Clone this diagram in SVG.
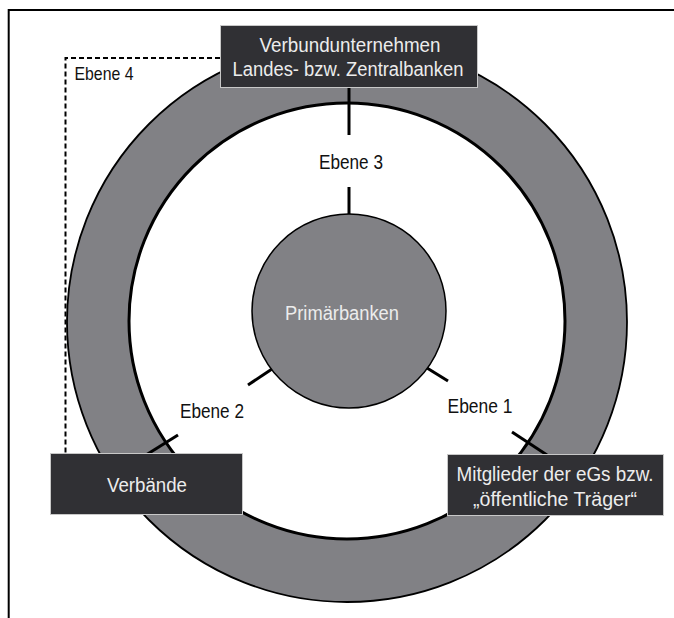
<svg xmlns="http://www.w3.org/2000/svg" width="674" height="618" viewBox="0 0 674 618">
<style>
  .frame{fill:none;stroke:#000;stroke-width:2}
  .dash{fill:none;stroke:#000;stroke-width:2;stroke-dasharray:5 3}
  .ring{fill:#818185;stroke:#000;stroke-width:1.8}
  .hole{fill:#fff;stroke:#000;stroke-width:3}
  .core{fill:#818185;stroke:#000;stroke-width:1.5}
  .box{fill:#303034;stroke:#c8c8c8;stroke-width:1}
  .conn{stroke:#000;stroke-width:3;fill:none}
  text{font-family:"Liberation Sans Narrow","Liberation Sans",Arial,sans-serif;font-size:20px;text-anchor:middle}
  .lt{fill:#ececec}
  .dk{fill:#111}
</style>
<rect x="0" y="0" width="674" height="618" fill="#fff"/>
<path class="frame" d="M8.7,618 V10 H674"/>
<g id="ring">
  <circle class="ring" cx="347" cy="322" r="280"/>
  <circle class="hole" cx="347" cy="321" r="218"/>
</g>
<g id="connectors">
  <path class="dash" d="M220,58 H65.5 V453"/>
  <line class="conn" x1="349" y1="87" x2="349" y2="135"/>
  <line class="conn" x1="349" y1="187" x2="349" y2="214"/>
  <line class="conn" x1="272" y1="369" x2="248" y2="385"/>
  <line class="conn" x1="178" y1="435" x2="146" y2="455"/>
  <line class="conn" x1="427" y1="368" x2="448" y2="381"/>
  <line class="conn" x1="512" y1="432" x2="547" y2="455"/>
</g>
<g id="primaerbanken">
  <circle class="core" cx="349" cy="311" r="97"/>
  <text class="lt" x="342" y="320" textLength="114" lengthAdjust="spacingAndGlyphs">Primärbanken</text>
</g>
<g id="verbundunternehmen">
  <rect class="box" x="220.5" y="25.5" width="257" height="62"/>
  <text class="lt" x="350" y="52" textLength="181" lengthAdjust="spacingAndGlyphs">Verbundunternehmen</text>
  <text class="lt" x="348" y="76" textLength="231" lengthAdjust="spacingAndGlyphs">Landes- bzw. Zentralbanken</text>
</g>
<g id="verbaende">
  <rect class="box" x="50.5" y="453.5" width="192" height="61"/>
  <text class="lt" x="147" y="492" textLength="80" lengthAdjust="spacingAndGlyphs">Verbände</text>
</g>
<g id="mitglieder">
  <rect class="box" x="447.5" y="454.5" width="216" height="61"/>
  <text class="lt" x="555" y="481" textLength="197" lengthAdjust="spacingAndGlyphs">Mitglieder der eGs bzw.</text>
  <text class="lt" x="555" y="506" textLength="164" lengthAdjust="spacingAndGlyphs">„öffentliche Träger“</text>
</g>
<g id="labels">
  <text class="dk" x="351" y="169" textLength="64" lengthAdjust="spacingAndGlyphs">Ebene 3</text>
  <text class="dk" x="212" y="418" textLength="64" lengthAdjust="spacingAndGlyphs">Ebene 2</text>
  <text class="dk" x="480" y="413" textLength="65" lengthAdjust="spacingAndGlyphs">Ebene 1</text>
  <text class="dk" x="104" y="80" style="font-size:19px" textLength="59" lengthAdjust="spacingAndGlyphs">Ebene 4</text>
</g>
</svg>
